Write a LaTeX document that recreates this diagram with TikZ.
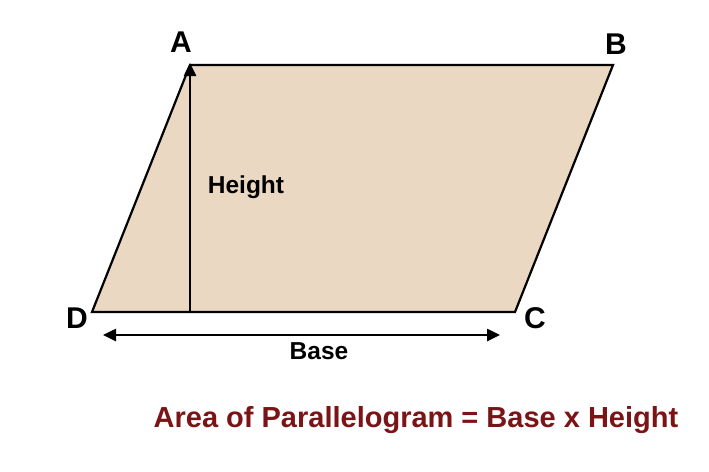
\documentclass[tikz,border=0pt]{standalone}
\usepackage{fontspec}
\setmainfont{Liberation Sans}
\usetikzlibrary{arrows.meta}
\definecolor{fillc}{RGB}{234,216,194}
\definecolor{titlec}{RGB}{122,20,22}
\begin{document}
\begin{tikzpicture}[x=1pt,y=-1pt,
  vlabel/.style={font=\bfseries\fontsize{30}{30}\selectfont, inner sep=0pt},
  dimlabel/.style={font=\bfseries\fontsize{24.5}{24.5}\selectfont, inner sep=0pt},
  tip/.style={Triangle[length=13pt,width=12pt]},
  arr/.style={line width=2.5pt, -{Triangle[length=13pt,width=12pt]}},
  darr/.style={line width=2.5pt, {Triangle[length=13pt,width=12pt]}-{Triangle[length=13pt,width=12pt]}}]
\useasboundingbox (0,0) rectangle (709,471);
\coordinate (A) at (190,65);
\coordinate (B) at (613,65);
\coordinate (C) at (515,312);
\coordinate (D) at (92,312);
\coordinate (F) at (190,312);
\coordinate (T) at (190,63);
\coordinate (L) at (103,335);
\coordinate (R) at (500,335);
\fill[fillc] (A) -- (B) -- (C) -- (D) -- cycle;
\draw[line width=2.2pt, line join=miter] (A) -- (B) -- (C) -- (D) -- cycle;
\draw[arr] (F) -- (T);
\draw[darr] (L) -- (R);
\node[vlabel] (la) at (181,42) {A};
\node[vlabel] (lb) at (616,44) {B};
\node[vlabel] (ld) at (77,318) {D};
\node[vlabel] (lc) at (535,318) {C};
\node[dimlabel] (lh) at (246,187) {Height};
\node[dimlabel] (lbase) at (319,351) {Base};
\node[font=\bfseries\fontsize{29}{29}\selectfont, text=titlec, inner sep=0pt] (title) at (416,420) {Area of Parallelogram = Base x Height};
\end{tikzpicture}
\end{document}
